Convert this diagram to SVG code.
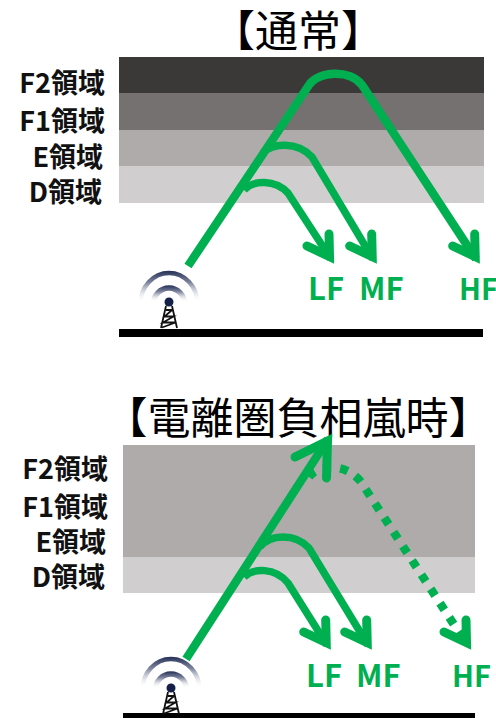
<svg xmlns="http://www.w3.org/2000/svg" xmlns:xlink="http://www.w3.org/1999/xlink" width="496" height="718" viewBox="0 0 496 718">
<style>
.title{font-family:"Noto Sans CJK JP","Noto Sans",sans-serif;font-size:43px;fill:#000;text-anchor:middle}
.lab{font-family:"Noto Sans CJK JP","Noto Sans",sans-serif;font-size:27px;font-weight:700;fill:#111;text-anchor:end}
.wave{font-family:"Noto Sans CJK JP","Noto Sans",sans-serif;font-size:31px;font-weight:700;fill:#00B050}
.hf{font-size:29px}
.g{fill:none;stroke:#00B050;stroke-width:8.500}
.t{fill:none;stroke:#00B050;stroke-width:7.500}
.head{fill:none;stroke:#00B050;stroke-width:9;stroke-linecap:round;stroke-linejoin:miter;stroke-miterlimit:10}
.tw{fill:none;stroke:#111;stroke-width:1.800}
</style>
<defs>
<linearGradient id="fade" gradientUnits="userSpaceOnUse" x1="0" y1="270" x2="0" y2="302">
<stop offset="0" stop-color="#1F2A52"/><stop offset="0.4" stop-color="#8088A0"/><stop offset="1" stop-color="#fff" stop-opacity="0"/>
</linearGradient>
<linearGradient id="fade2" gradientUnits="userSpaceOnUse" x1="0" y1="285" x2="0" y2="302">
<stop offset="0" stop-color="#1F2A52"/><stop offset="0.4" stop-color="#8088A0"/><stop offset="1" stop-color="#fff" stop-opacity="0"/>
</linearGradient>
<path id="hd" class="head" d="M-6 -32L-5.500 -9.500L-28 -20"/>
<g id="tower">
<path d="M140.500 304A28.500 31 0 0 1 197.500 304" fill="none" stroke="url(#fade)" stroke-width="4.500"/>
<path d="M153.500 304A15.500 16 0 0 1 184.500 304" fill="none" stroke="url(#fade2)" stroke-width="5.500"/>
<circle cx="169" cy="302" r="4.500" fill="#14204A"/>
<path class="tw" d="M166 306L161 328M172 306L177 328M166 310H172M172 310L164.500 316.500H173.500L163 322.500H175.500L162 327.500"/>
</g>
</defs>
<g id="upper-layers">
<rect x="119" y="57" width="365" height="36" fill="#3B3838"/>
<rect x="119" y="93" width="365" height="37" fill="#767171"/>
<rect x="119" y="130" width="365" height="36" fill="#AFABAB"/>
<rect x="119" y="166" width="365" height="37" fill="#D0CECE"/>
<rect x="119" y="329" width="364" height="8" fill="#000"/>
</g>
<g id="lower-layers">
<rect x="123" y="445" width="352" height="112" fill="#AFABAB"/>
<rect x="123" y="557" width="352" height="36" fill="#D0CECE"/>
<rect x="123" y="713" width="352" height="5" fill="#000"/>
</g>
<g id="titles">
<text class="title" x="298" y="47">【通常】</text>
<text class="title" x="298" y="434">【電離圏負相嵐時】</text>
</g>
<g id="upper-labels">
<text class="lab" x="105" y="93">F2領域</text>
<text class="lab" x="105" y="131">F1領域</text>
<text class="lab" x="103" y="167">E領域</text>
<text class="lab" x="102" y="202">D領域</text>
<text class="wave" x="308" y="300">LF</text>
<text class="wave" x="359" y="300">MF</text>
<text class="wave hf" x="459" y="300">HF</text>
</g>
<g id="lower-labels">
<text class="lab" x="108" y="479">F2領域</text>
<text class="lab" x="108" y="517">F1領域</text>
<text class="lab" x="106" y="552">E領域</text>
<text class="lab" x="105" y="587">D領域</text>
<text class="wave" x="306" y="687">LF</text>
<text class="wave" x="356" y="687">MF</text>
<text class="wave hf" x="452" y="687">HF</text>
</g>
<g id="upper-antenna"><use xlink:href="#tower" href="#tower"/></g>
<g id="lower-antenna"><use xlink:href="#tower" href="#tower" transform="translate(2,386)"/></g>
<g id="connectors">
<path class="g" d="M188 266L309 85C318 71 350 69 362 85L476 259"/>
<use xlink:href="#hd" href="#hd" transform="translate(480.700,266)"/>
<path class="t" d="M263 153C272 143 297 141 312 157L373 259"/>
<use xlink:href="#hd" href="#hd" transform="translate(377.700,266)"/>
<path class="t" d="M244 190C253 180 275 179 288 193L331 259"/>
<use xlink:href="#hd" href="#hd" transform="translate(335,266)"/>
<path class="g" d="M186 659L328 439"/>
<path class="head" d="M295 457L327.500 441L326.500 478"/>
<path class="t" d="M260 547C270 534 295 533 309 548L368 645"/>
<use xlink:href="#hd" href="#hd" transform="translate(372.700,652)"/>
<path class="t" d="M244 577C253 568 275 567 288 583L327 645"/>
<use xlink:href="#hd" href="#hd" transform="translate(331.700,652)"/>
<path class="g" stroke-dasharray="8 9" d="M309 477C318 464 347 463 361 482L464 640"/>
<use xlink:href="#hd" href="#hd" transform="translate(472,652)"/>
</g>
</svg>
